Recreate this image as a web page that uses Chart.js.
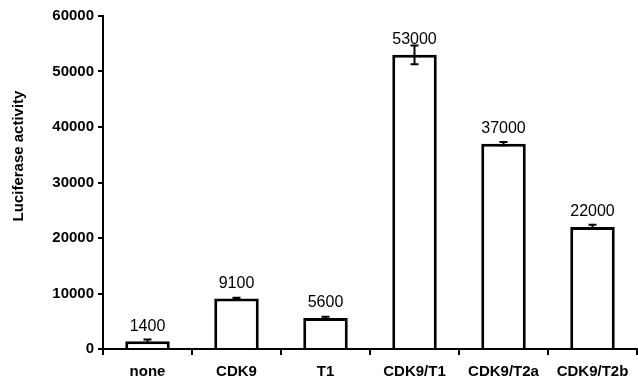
<!DOCTYPE html>
<html>
<head>
<meta charset="utf-8">
<script src="https://cdn.jsdelivr.net/npm/chart.js@4"></script>
<style>
  html, body { margin: 0; padding: 0; background: #fff; }
  #wrap { width: 638px; height: 379px; }
</style>
</head>
<body>
<div id="wrap"><canvas id="chart" width="638" height="379"></canvas></div>
<script>
// Data
const categories = ['none', 'CDK9', 'T1', 'CDK9/T1', 'CDK9/T2a', 'CDK9/T2b'];
const activity = [1400, 9100, 5600, 53000, 37000, 22000];
const errors = [300, 150, 200, 1700, 300, 400];
const valueLabels = ['1400', '9100', '5600', '53000', '37000', '22000'];
const yTitle = 'Luciferase activity';

const FONT = 'Liberation Sans, Arial, sans-serif';

// Error bars drawn through the y scale
const errorBarPlugin = {
  id: 'errorBars',
  afterDatasetsDraw(chart) {
    const ctx = chart.ctx;
    const meta = chart.getDatasetMeta(0);
    const y = chart.scales.y;
    ctx.save();
    ctx.strokeStyle = '#000';
    ctx.lineWidth = 2;
    meta.data.forEach((bar, i) => {
      const top = y.getPixelForValue(activity[i] + errors[i]);
      const bot = y.getPixelForValue(activity[i] - errors[i]);
      const x = bar.x;
      ctx.beginPath();
      ctx.moveTo(x, top); ctx.lineTo(x, bot);
      ctx.moveTo(x - 4, top); ctx.lineTo(x + 4, top);
      ctx.moveTo(x - 4, bot); ctx.lineTo(x + 4, bot);
      ctx.stroke();
    });
    ctx.restore();
  }
};

// Value labels above each bar, plus the y axis title (sits a bit above centre)
const valueLabelPlugin = {
  id: 'valueLabels',
  afterDatasetsDraw(chart) {
    const ctx = chart.ctx;
    const meta = chart.getDatasetMeta(0);
    ctx.save();
    ctx.fillStyle = '#000';
    ctx.font = '16px ' + FONT;
    ctx.textAlign = 'center';
    ctx.textBaseline = 'middle';
    meta.data.forEach((bar, i) => {
      ctx.fillText(valueLabels[i], bar.x, bar.y - 15);
    });

    ctx.translate(19, 156);
    ctx.rotate(-Math.PI / 2);
    ctx.font = 'bold 15px ' + FONT;
    ctx.fillText(yTitle, 0, 0);
    ctx.restore();
  }
};

new Chart(document.getElementById('chart'), {
  type: 'bar',
  data: {
    labels: categories,
    datasets: [{
      data: activity,
      backgroundColor: '#fff',
      borderColor: '#000',
      borderWidth: 3,
      barPercentage: 0.5,
      categoryPercentage: 1.0
    }]
  },
  options: {
    responsive: false,
    animation: false,
    layout: { padding: { top: 16, right: 1, left: 0, bottom: 0 } },
    plugins: {
      legend: { display: false },
      tooltip: { enabled: false }
    },
    scales: {
      x: {
        offset: true,
        afterFit: (scale) => { scale.height = 30; },
        grid: { drawOnChartArea: false, drawTicks: true, tickLength: 6, color: '#000', lineWidth: 2, offset: true },
        border: { color: '#000', width: 2 },
        ticks: { color: '#000', font: { family: FONT, size: 15, weight: 'bold' }, padding: 8, maxRotation: 0, autoSkip: false }
      },
      y: {
        min: 0,
        max: 60000,
        afterFit: (scale) => { scale.width = 103; },
        ticks: {
          stepSize: 10000, color: '#000', padding: 4,
          font: { family: FONT, size: 15, weight: 'bold' },
          callback: (v) => String(v)
        },
        grid: { drawOnChartArea: false, drawTicks: true, tickLength: 5, color: '#000', lineWidth: 2 },
        border: { color: '#000', width: 2 }
      }
    }
  },
  plugins: [errorBarPlugin, valueLabelPlugin]
});
</script>
</body>
</html>
